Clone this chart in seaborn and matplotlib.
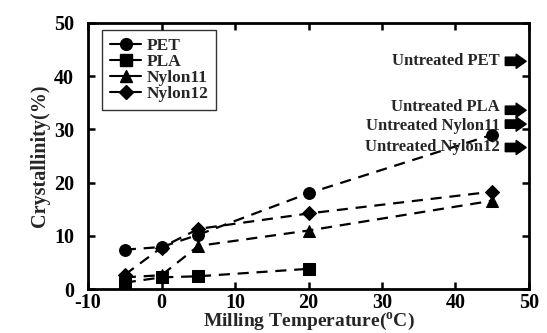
import matplotlib
matplotlib.use("Agg")
import matplotlib.pyplot as plt
import seaborn as sns
import pandas as pd
from matplotlib.lines import Line2D

sns.set_theme(style="ticks")
plt.rcParams['font.family'] = ['Liberation Serif', 'DejaVu Serif']
plt.rcParams['font.weight'] = 'bold'
plt.rcParams['mathtext.fontset'] = 'custom'
plt.rcParams['mathtext.bf'] = 'Liberation Serif:bold'

temps_pet = [-5, 0, 5, 20, 45]
pet = [7.4, 7.9, 10.2, 18.0, 29.0]
temps_pla = [-5, 0, 5, 20]
pla = [1.2, 2.2, 2.4, 3.8]
temps_n11 = [-5, 0, 5, 20, 45]
nylon11 = [2.2, 2.6, 8.1, 11.0, 16.6]
temps_n12 = [-5, 0, 5, 20, 45]
nylon12 = [2.7, 7.8, 11.3, 14.2, 18.3]

x_ticks = [-10, 0, 10, 20, 30, 40, 50]
x_tick_labels = ["-10", "0", "10", "20", "30", "40", "50"]
y_ticks = [0, 10, 20, 30, 40, 50]

names = ["PET", "PLA", "Nylon11", "Nylon12"]
markers = ["o", "s", "^", "D"]
msizes = [8.5, 8, 8, 7]

untreated_labels = ["Untreated PET", "Untreated PLA", "Untreated Nylon11", "Untreated Nylon12"]
untreated_vals = [42.8, 33.6, 31.0, 26.6]
text_offsets_pt = [0, 2, -1.5, 0]

fig = plt.figure(figsize=(5.47, 3.33), dpi=100)
ax = fig.add_axes([0.161, 0.132, 0.806, 0.799])

series = [(temps_pet, pet), (temps_pla, pla), (temps_n11, nylon11), (temps_n12, nylon12)]
for (t, v), name, m, ms in zip(series, names, markers, msizes):
    df = pd.DataFrame({"T": t, "C": v})
    sns.lineplot(data=df, x="T", y="C", ax=ax, color="black", marker=m,
                 markersize=ms, markeredgecolor="black", linestyle=(0, (5, 3.5)),
                 linewidth=1.6, legend=False)

ax.set_xlim(-10, 50)
ax.set_ylim(0, 50)
ax.set_xticks(x_ticks)
ax.set_xticklabels(x_tick_labels)
ax.set_yticks(y_ticks)
for s in ax.spines.values():
    s.set_linewidth(2)
    s.set_color("black")
ax.tick_params(direction="in", length=5, width=1.8, top=True, right=True,
               labelsize=14.5, colors="black")
ax.tick_params(axis="x", pad=2.5)
ax.tick_params(axis="y", pad=10)
for lab in ax.get_xticklabels() + ax.get_yticklabels():
    lab.set_fontweight("bold")
ax.set_xlabel("Milling Temperature($\\mathbf{^{o}}$C)", fontsize=14, fontweight="bold", labelpad=-1)
ax.set_ylabel("Crystallinity(%)", fontsize=14.5, fontweight="bold", labelpad=3)

handles = [Line2D([0], [0], color="black", marker=m, markersize=ms, linewidth=1.5)
           for m, ms in zip(markers, msizes)]
leg = ax.legend(handles, names, loc="upper left", bbox_to_anchor=(0.032, 0.974),
                frameon=True, fancybox=False, edgecolor="black",
                prop={"weight": "bold", "size": 12.5}, handlelength=1.8,
                labelspacing=0.0, borderpad=0.45, handletextpad=0.3,
                borderaxespad=0)
leg.get_frame().set_linewidth(1.0)

for lab, val, off in zip(untreated_labels, untreated_vals, text_offsets_pt):
    ax.annotate("", xy=(50, val), xytext=(46.4, val),
                arrowprops=dict(arrowstyle="simple,head_length=0.6,head_width=0.85,tail_width=0.5",
                                color="black"))
    ax.annotate(lab, xy=(46.0, val), xytext=(0, off), textcoords="offset points",
                ha="right", va="center", fontsize=12, fontweight="bold")

fig.savefig("out.png", dpi=100)
